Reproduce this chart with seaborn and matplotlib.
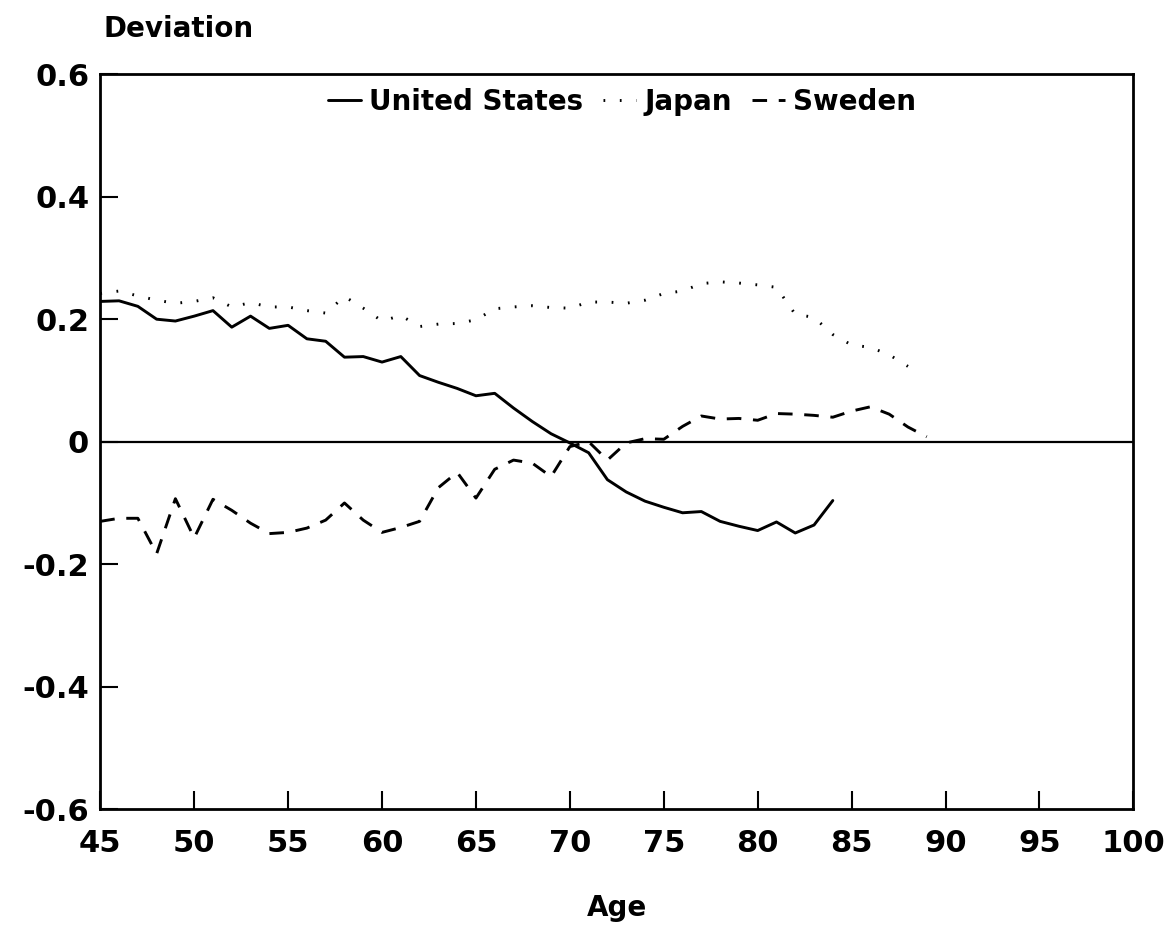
import matplotlib
matplotlib.use("Agg")
import matplotlib.pyplot as plt
import seaborn as sns
import pandas as pd

# deviation by age
ages_us = list(range(45, 85))
us = [0.229, 0.230, 0.221, 0.200, 0.197, 0.205, 0.214, 0.187, 0.205, 0.185,
      0.190, 0.168, 0.164, 0.138, 0.139, 0.130, 0.139, 0.108, 0.097, 0.087,
      0.075, 0.079, 0.055, 0.033, 0.013, -0.002, -0.018, -0.062, -0.082, -0.097,
      -0.107, -0.116, -0.114, -0.130, -0.138, -0.145, -0.131, -0.149, -0.136, -0.096]

ages_jp = list(range(45, 89))
japan = [0.242, 0.246, 0.238, 0.231, 0.226, 0.229, 0.235, 0.220, 0.227, 0.220,
         0.220, 0.214, 0.210, 0.237, 0.218, 0.197, 0.206, 0.188, 0.192, 0.193,
         0.199, 0.217, 0.220, 0.222, 0.219, 0.218, 0.228, 0.228, 0.226, 0.231,
         0.242, 0.246, 0.258, 0.261, 0.259, 0.256, 0.252, 0.208, 0.203, 0.175,
         0.158, 0.154, 0.142, 0.123]

ages_se = list(range(45, 90))
sweden = [-0.130, -0.125, -0.125, -0.183, -0.093, -0.157, -0.094, -0.112, -0.133, -0.150,
          -0.148, -0.141, -0.128, -0.100, -0.128, -0.148, -0.140, -0.130, -0.075, -0.050,
          -0.092, -0.045, -0.030, -0.035, -0.057, -0.008, 0.000, -0.030, -0.002, 0.005,
          0.004, 0.025, 0.042, 0.037, 0.038, 0.035, 0.046, 0.045, 0.043, 0.040,
          0.050, 0.057, 0.045, 0.024, 0.008]

countries = ['United States', 'Japan', 'Sweden']
x_ticks = list(range(45, 101, 5))
y_ticks = [-0.6, -0.4, -0.2, 0, 0.2, 0.4, 0.6]
y_labels = ['-0.6', '-0.4', '-0.2', '0', '0.2', '0.4', '0.6']

df = pd.concat([
    pd.DataFrame({'Age': ages_us, 'Deviation': us, 'Country': 'United States'}),
    pd.DataFrame({'Age': ages_jp, 'Deviation': japan, 'Country': 'Japan'}),
    pd.DataFrame({'Age': ages_se, 'Deviation': sweden, 'Country': 'Sweden'}),
], ignore_index=True)

sns.set_style('ticks')
plt.rcParams['font.family'] = ['DejaVu Sans']
plt.rcParams['font.weight'] = 'bold'
plt.rcParams['text.color'] = 'black'
plt.rcParams['axes.labelcolor'] = 'black'

fig = plt.figure(figsize=(11.66, 9.27), dpi=100)
ax = fig.add_axes([0.086, 0.127, 0.886, 0.793])

sns.lineplot(data=df, x='Age', y='Deviation', hue='Country', style='Country',
             hue_order=countries, style_order=countries,
             palette={c: 'black' for c in countries},
             dashes={'United States': '', 'Japan': (0.6, 5), 'Sweden': (5, 4)},
             linewidth=2.1, errorbar=None, ax=ax)

ax.axhline(0, color='black', lw=1.6, zorder=1)

ax.set_xlim(45, 100)
ax.set_ylim(-0.6, 0.6)
ax.set_xticks(x_ticks)
ax.set_yticks(y_ticks)
ax.set_yticklabels(y_labels)
ax.tick_params(direction='in', length=13, width=1.5, labelsize=22, colors='black')
ax.tick_params(axis='x', pad=14)
ax.tick_params(axis='y', pad=8)
for s in ax.spines.values():
    s.set_linewidth(2)
    s.set_color('black')

ax.set_xlabel('Age', fontsize=20, fontweight='bold', labelpad=26)
ax.set_ylabel('')
fig.text(0.089, 0.969, 'Deviation', fontsize=20, fontweight='bold', ha='left', va='center')

ax.legend(ncol=3, loc='upper center', bbox_to_anchor=(0.505, 1.0), frameon=False,
          fontsize=20, handlelength=1.2, columnspacing=0.7, handletextpad=0.3,
          borderaxespad=0.1)

fig.savefig('out.png', dpi=100)
